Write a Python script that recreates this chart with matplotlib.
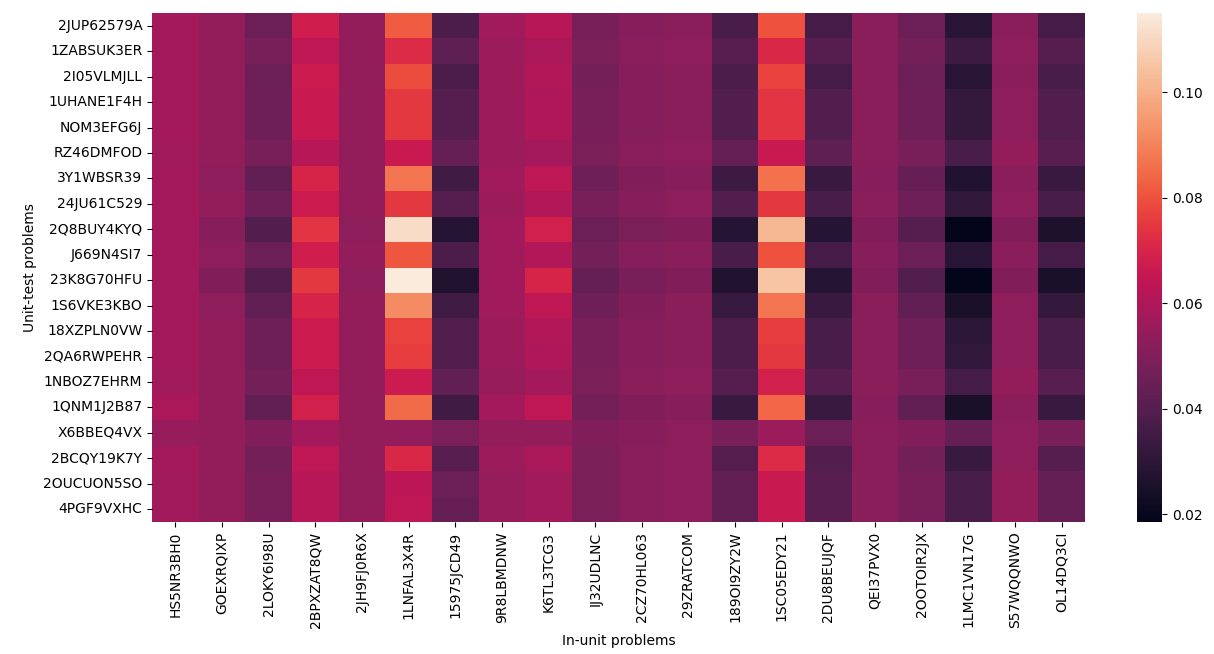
import matplotlib
matplotlib.use("Agg")
import matplotlib.pyplot as plt
import seaborn as sns
import numpy as np

rows = ["2JUP62579A", "1ZABSUK3ER", "2I05VLMJLL", "1UHANE1F4H", "NOM3EFG6J",
        "RZ46DMFOD", "3Y1WBSR39", "24JU61C529", "2Q8BUY4KYQ", "J669N4SI7",
        "23K8G70HFU", "1S6VKE3KBO", "18XZPLN0VW", "2QA6RWPEHR", "1NBOZ7EHRM",
        "1QNM1J2B87", "X6BBEQ4VX", "2BCQY19K7Y", "2OUCUON5SO", "4PGF9VXHC"]
cols = ["HS5NR3BH0", "GOEXRQIXP", "2LOKY6I98U", "2BPXZAT8QW", "2JH9FJ0R6X",
        "1LNFAL3X4R", "15975JCD49", "9R8LBMDNW", "K6TL3TCG3", "IJ32UDLNC",
        "2CZ70HL063", "29ZRATCOM", "189OI9ZY2W", "1SC05EDY21", "2DU8BEUJQF",
        "QEI37PVX0", "2OOTOIR2JX", "1LMC1VN17G", "S57WQQNWO", "OL14DQ3CI"]

r00 = [0.058, 0.054, 0.045, 0.068, 0.054, 0.082, 0.038, 0.057, 0.062, 0.048, 0.051, 0.052, 0.037, 0.080, 0.036, 0.052, 0.045, 0.029, 0.052, 0.036]
r01 = [0.058, 0.054, 0.048, 0.064, 0.054, 0.072, 0.042, 0.056, 0.059, 0.049, 0.052, 0.053, 0.041, 0.071, 0.040, 0.052, 0.047, 0.034, 0.053, 0.040]
r02 = [0.058, 0.054, 0.045, 0.067, 0.054, 0.079, 0.038, 0.056, 0.061, 0.047, 0.051, 0.052, 0.038, 0.077, 0.036, 0.052, 0.045, 0.029, 0.052, 0.037]
r03 = [0.058, 0.054, 0.046, 0.066, 0.054, 0.075, 0.040, 0.056, 0.060, 0.048, 0.051, 0.052, 0.039, 0.074, 0.039, 0.052, 0.046, 0.032, 0.053, 0.039]
r04 = [0.058, 0.054, 0.046, 0.066, 0.054, 0.075, 0.040, 0.056, 0.060, 0.048, 0.051, 0.052, 0.039, 0.074, 0.039, 0.052, 0.046, 0.032, 0.053, 0.039]
r05 = [0.057, 0.054, 0.048, 0.062, 0.054, 0.066, 0.044, 0.056, 0.058, 0.049, 0.052, 0.053, 0.044, 0.066, 0.042, 0.052, 0.048, 0.037, 0.054, 0.041]
r06 = [0.058, 0.053, 0.043, 0.070, 0.054, 0.087, 0.035, 0.057, 0.064, 0.046, 0.050, 0.051, 0.034, 0.086, 0.033, 0.051, 0.044, 0.027, 0.052, 0.033]
r07 = [0.058, 0.054, 0.046, 0.067, 0.054, 0.075, 0.040, 0.056, 0.061, 0.048, 0.051, 0.053, 0.039, 0.075, 0.037, 0.052, 0.046, 0.031, 0.053, 0.037]
r08 = [0.058, 0.051, 0.039, 0.074, 0.053, 0.111, 0.028, 0.057, 0.069, 0.045, 0.049, 0.050, 0.028, 0.102, 0.028, 0.050, 0.040, 0.019, 0.050, 0.026]
r09 = [0.058, 0.053, 0.045, 0.068, 0.054, 0.081, 0.038, 0.057, 0.061, 0.047, 0.051, 0.052, 0.037, 0.080, 0.036, 0.051, 0.045, 0.029, 0.052, 0.036]
r10 = [0.058, 0.050, 0.039, 0.075, 0.053, 0.115, 0.027, 0.057, 0.070, 0.044, 0.048, 0.050, 0.027, 0.105, 0.028, 0.050, 0.039, 0.0185, 0.050, 0.025]
r11 = [0.058, 0.053, 0.043, 0.070, 0.054, 0.092, 0.035, 0.057, 0.064, 0.046, 0.050, 0.052, 0.033, 0.087, 0.033, 0.052, 0.043, 0.025, 0.053, 0.032]
r12 = [0.058, 0.054, 0.046, 0.067, 0.054, 0.077, 0.039, 0.056, 0.061, 0.048, 0.051, 0.052, 0.038, 0.076, 0.037, 0.052, 0.046, 0.030, 0.053, 0.037]
r13 = [0.058, 0.054, 0.046, 0.067, 0.054, 0.076, 0.039, 0.056, 0.060, 0.048, 0.051, 0.052, 0.038, 0.075, 0.037, 0.052, 0.046, 0.031, 0.053, 0.037]
r14 = [0.057, 0.054, 0.047, 0.064, 0.054, 0.067, 0.043, 0.055, 0.058, 0.049, 0.052, 0.053, 0.040, 0.069, 0.040, 0.052, 0.048, 0.036, 0.054, 0.041]
r15 = [0.059, 0.054, 0.043, 0.069, 0.054, 0.085, 0.035, 0.058, 0.064, 0.047, 0.050, 0.051, 0.033, 0.084, 0.033, 0.051, 0.043, 0.025, 0.052, 0.033]
r16 = [0.055, 0.054, 0.050, 0.058, 0.054, 0.054, 0.049, 0.054, 0.054, 0.050, 0.051, 0.053, 0.048, 0.056, 0.045, 0.052, 0.050, 0.044, 0.053, 0.048]
r17 = [0.058, 0.054, 0.047, 0.064, 0.054, 0.071, 0.041, 0.056, 0.059, 0.049, 0.052, 0.053, 0.040, 0.072, 0.039, 0.052, 0.047, 0.033, 0.053, 0.040]
r18 = [0.057, 0.054, 0.048, 0.062, 0.054, 0.063, 0.045, 0.055, 0.057, 0.049, 0.052, 0.053, 0.043, 0.066, 0.041, 0.052, 0.048, 0.037, 0.054, 0.044]
r19 = [0.057, 0.054, 0.048, 0.062, 0.054, 0.064, 0.044, 0.055, 0.057, 0.049, 0.052, 0.053, 0.043, 0.066, 0.041, 0.052, 0.048, 0.037, 0.054, 0.044]

values = np.array([r00, r01, r02, r03, r04, r05, r06, r07, r08, r09,
                   r10, r11, r12, r13, r14, r15, r16, r17, r18, r19])

W, H = 1214, 654
fig = plt.figure(figsize=(W / 100, H / 100), dpi=100)
ax = fig.add_axes([152 / W, (H - 522) / H, (1085 - 152) / W, (522 - 13) / H])
cax = fig.add_axes([1137 / W, (H - 522) / H, (1162 - 1137) / W, (522 - 13) / H])

sns.heatmap(values, ax=ax, cbar_ax=cax, cmap="rocket",
            xticklabels=cols, yticklabels=rows)
ax.set_xlabel("In-unit problems")
ax.set_ylabel("Unit-test problems")
ax.tick_params(axis="x", rotation=90)
ax.tick_params(axis="y", rotation=0)

fig.savefig("out.png", dpi=100)
